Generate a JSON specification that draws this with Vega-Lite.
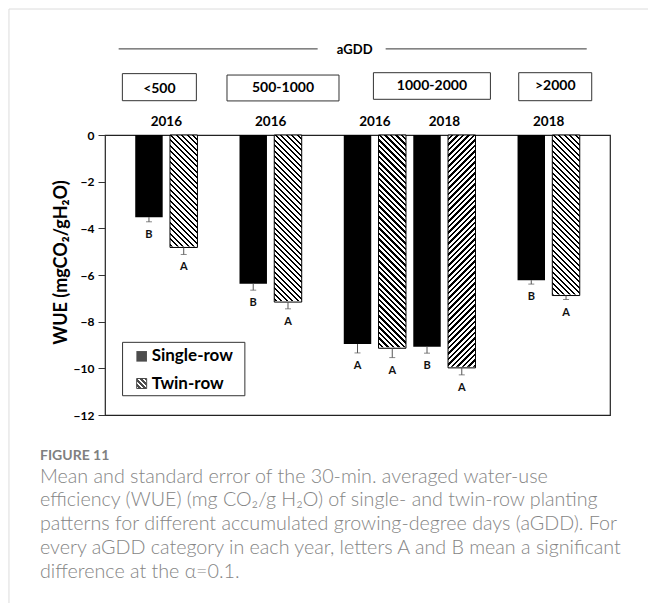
{
"$schema": "https://vega.github.io/schema/vega-lite/v6.json",
"autosize": {"type": "none"},
"width": 505, "height": 280,
"padding": {"left": 105, "top": 135, "right": 38, "bottom": 188},
"background": "white",
"datasets": {"bars": [
{"agdd":"<500","year":"2016","pattern":"Single-row","bar":"<500 2016 Single-row","wue":-3.52,"lo":-3.72,"letter":"B"},
{"agdd":"<500","year":"2016","pattern":"Twin-row","bar":"<500 2016 Twin-row","wue":-4.82,"lo":-5.12,"letter":"A"},
{"agdd":"500-1000","year":"2016","pattern":"Single-row","bar":"500-1000 2016 Single-row","wue":-6.37,"lo":-6.65,"letter":"B"},
{"agdd":"500-1000","year":"2016","pattern":"Twin-row","bar":"500-1000 2016 Twin-row","wue":-7.16,"lo":-7.45,"letter":"A"},
{"agdd":"1000-2000","year":"2016","pattern":"Single-row","bar":"1000-2000 2016 Single-row","wue":-8.96,"lo":-9.34,"letter":"A"},
{"agdd":"1000-2000","year":"2016","pattern":"Twin-row","bar":"1000-2000 2016 Twin-row","wue":-9.14,"lo":-9.54,"letter":"A"},
{"agdd":"1000-2000","year":"2018","pattern":"Single-row","bar":"1000-2000 2018 Single-row","wue":-9.07,"lo":-9.35,"letter":"B"},
{"agdd":"1000-2000","year":"2018","pattern":"Twin-row","bar":"1000-2000 2018 Twin-row","wue":-9.98,"lo":-10.28,"letter":"A"},
{"agdd":">2000","year":"2018","pattern":"Single-row","bar":">2000 2018 Single-row","wue":-6.22,"lo":-6.39,"letter":"B"},
{"agdd":">2000","year":"2018","pattern":"Twin-row","bar":">2000 2018 Twin-row","wue":-6.88,"lo":-7.05,"letter":"A"}
]},
"data": {"name": "bars"},
"title": {
 "text": "FIGURE 11",
 "subtitle": ["Mean and standard error of the 30-min. averaged water-use", "efficiency (WUE) (mg CO₂/g H₂O) of single- and twin-row planting", "patterns for different accumulated growing-degree days (aGDD). For", "every aGDD category in each year, letters A and B mean a significant", "difference at the α=0.1."],
 "orient": "bottom", "anchor": "start", "frame": "group", "dx": -65, "offset": -177,
 "font": "Lato", "fontSize": 14, "fontWeight": "bold", "color": "#808080",
 "subtitleFont": "Lato", "subtitleFontSize": 19.7, "subtitleFontWeight": 300, "subtitleColor": "#858585",
 "subtitleLineHeight": 23.8, "subtitlePadding": 4
},
"config": {
 "view": {"stroke": "#222", "strokeWidth": 1.2},
 "axisX": {"disable": true},
 "text": {"font": "Lato"},
 "font": "Lato"
},
"layer": [
{"data": {"values": [{}]}, "mark": {"type": "rule", "color": "#dcdcdc", "strokeWidth": 1, "xOffset": -140, "x2Offset": 90},
 "encoding": {"x": {"datum": "<500 2016 Single-row", "type": "nominal", "axis": null, "scale": {"domain": ["<500 2016 Single-row", "<500 2016 Twin-row", "gap1", "500-1000 2016 Single-row", "500-1000 2016 Twin-row", "gap2", "1000-2000 2016 Single-row", "1000-2000 2016 Twin-row", "1000-2000 2018 Single-row", "1000-2000 2018 Twin-row", "gap3", ">2000 2018 Single-row", ">2000 2018 Twin-row"], "paddingInner": 0.21, "paddingOuter": 0.87}},
  "x2": {"datum": ">2000 2018 Twin-row"},
  "y": {"datum": 5.4, "type": "quantitative", "scale": {"domain": [-12, 0], "nice": false, "zero": false},
   "axis": {"title": "WUE (mgCO₂/gH₂O)", "values": [-12, -10, -8, -6, -4, -2, 0], "grid": false, "domain": false, "tickSize": 7, "tickColor": "#333", "labelFont": "Lato", "labelFontSize": 12, "labelFontWeight": "bold", "labelColor": "#000", "labelPadding": 4, "labelFlush": false, "titleFont": "Lato", "titleFontSize": 18, "titleFontWeight": "bold", "titleColor": "#000", "titlePadding": 3, "titleY": 127}}}},
{"data": {"values": [{}]}, "mark": {"type": "rule", "color": "#dcdcdc", "strokeWidth": 1, "xOffset": -140},
 "encoding": {"x": {"datum": "<500 2016 Single-row", "type": "nominal"}, "y": {"datum": 5.4}, "y2": {"datum": -21}}},
{"transform": [{"filter": "datum.pattern === 'Twin-row' && datum.bar !== '1000-2000 2018 Twin-row'"}],
 "mark": {"type": "bar", "fill": {"gradient": "linear", "x1": 0, "y1": 0.97959, "x2": 0.12425, "y2": -0.12896, "stops": [
{"offset":0,"color":"#fff"},{"offset":0.012,"color":"#fff"},{"offset":0.012,"color":"#000"},{"offset":0.02,"color":"#000"},
{"offset":0.02,"color":"#fff"},{"offset":0.032,"color":"#fff"},{"offset":0.032,"color":"#000"},{"offset":0.04,"color":"#000"},
{"offset":0.04,"color":"#fff"},{"offset":0.052,"color":"#fff"},{"offset":0.052,"color":"#000"},{"offset":0.06,"color":"#000"},
{"offset":0.06,"color":"#fff"},{"offset":0.072,"color":"#fff"},{"offset":0.072,"color":"#000"},{"offset":0.08,"color":"#000"},
{"offset":0.08,"color":"#fff"},{"offset":0.092,"color":"#fff"},{"offset":0.092,"color":"#000"},{"offset":0.10,"color":"#000"},
{"offset":0.10,"color":"#fff"},{"offset":0.112,"color":"#fff"},{"offset":0.112,"color":"#000"},{"offset":0.12,"color":"#000"},
{"offset":0.12,"color":"#fff"},{"offset":0.132,"color":"#fff"},{"offset":0.132,"color":"#000"},{"offset":0.14,"color":"#000"},
{"offset":0.14,"color":"#fff"},{"offset":0.152,"color":"#fff"},{"offset":0.152,"color":"#000"},{"offset":0.16,"color":"#000"},
{"offset":0.16,"color":"#fff"},{"offset":0.172,"color":"#fff"},{"offset":0.172,"color":"#000"},{"offset":0.18,"color":"#000"},
{"offset":0.18,"color":"#fff"},{"offset":0.192,"color":"#fff"},{"offset":0.192,"color":"#000"},{"offset":0.20,"color":"#000"},
{"offset":0.20,"color":"#fff"},{"offset":0.212,"color":"#fff"},{"offset":0.212,"color":"#000"},{"offset":0.22,"color":"#000"},
{"offset":0.22,"color":"#fff"},{"offset":0.232,"color":"#fff"},{"offset":0.232,"color":"#000"},{"offset":0.24,"color":"#000"},
{"offset":0.24,"color":"#fff"},{"offset":0.252,"color":"#fff"},{"offset":0.252,"color":"#000"},{"offset":0.26,"color":"#000"},
{"offset":0.26,"color":"#fff"},{"offset":0.272,"color":"#fff"},{"offset":0.272,"color":"#000"},{"offset":0.28,"color":"#000"},
{"offset":0.28,"color":"#fff"},{"offset":0.292,"color":"#fff"},{"offset":0.292,"color":"#000"},{"offset":0.30,"color":"#000"},
{"offset":0.30,"color":"#fff"},{"offset":0.312,"color":"#fff"},{"offset":0.312,"color":"#000"},{"offset":0.32,"color":"#000"},
{"offset":0.32,"color":"#fff"},{"offset":0.332,"color":"#fff"},{"offset":0.332,"color":"#000"},{"offset":0.34,"color":"#000"},
{"offset":0.34,"color":"#fff"},{"offset":0.352,"color":"#fff"},{"offset":0.352,"color":"#000"},{"offset":0.36,"color":"#000"},
{"offset":0.36,"color":"#fff"},{"offset":0.372,"color":"#fff"},{"offset":0.372,"color":"#000"},{"offset":0.38,"color":"#000"},
{"offset":0.38,"color":"#fff"},{"offset":0.392,"color":"#fff"},{"offset":0.392,"color":"#000"},{"offset":0.40,"color":"#000"},
{"offset":0.40,"color":"#fff"},{"offset":0.412,"color":"#fff"},{"offset":0.412,"color":"#000"},{"offset":0.42,"color":"#000"},
{"offset":0.42,"color":"#fff"},{"offset":0.432,"color":"#fff"},{"offset":0.432,"color":"#000"},{"offset":0.44,"color":"#000"},
{"offset":0.44,"color":"#fff"},{"offset":0.452,"color":"#fff"},{"offset":0.452,"color":"#000"},{"offset":0.46,"color":"#000"},
{"offset":0.46,"color":"#fff"},{"offset":0.472,"color":"#fff"},{"offset":0.472,"color":"#000"},{"offset":0.48,"color":"#000"},
{"offset":0.48,"color":"#fff"},{"offset":0.492,"color":"#fff"},{"offset":0.492,"color":"#000"},{"offset":0.50,"color":"#000"},
{"offset":0.50,"color":"#fff"},{"offset":0.512,"color":"#fff"},{"offset":0.512,"color":"#000"},{"offset":0.52,"color":"#000"},
{"offset":0.52,"color":"#fff"},{"offset":0.532,"color":"#fff"},{"offset":0.532,"color":"#000"},{"offset":0.54,"color":"#000"},
{"offset":0.54,"color":"#fff"},{"offset":0.552,"color":"#fff"},{"offset":0.552,"color":"#000"},{"offset":0.56,"color":"#000"},
{"offset":0.56,"color":"#fff"},{"offset":0.572,"color":"#fff"},{"offset":0.572,"color":"#000"},{"offset":0.58,"color":"#000"},
{"offset":0.58,"color":"#fff"},{"offset":0.592,"color":"#fff"},{"offset":0.592,"color":"#000"},{"offset":0.60,"color":"#000"},
{"offset":0.60,"color":"#fff"},{"offset":0.612,"color":"#fff"},{"offset":0.612,"color":"#000"},{"offset":0.62,"color":"#000"},
{"offset":0.62,"color":"#fff"},{"offset":0.632,"color":"#fff"},{"offset":0.632,"color":"#000"},{"offset":0.64,"color":"#000"},
{"offset":0.64,"color":"#fff"},{"offset":0.652,"color":"#fff"},{"offset":0.652,"color":"#000"},{"offset":0.66,"color":"#000"},
{"offset":0.66,"color":"#fff"},{"offset":0.672,"color":"#fff"},{"offset":0.672,"color":"#000"},{"offset":0.68,"color":"#000"},
{"offset":0.68,"color":"#fff"},{"offset":0.692,"color":"#fff"},{"offset":0.692,"color":"#000"},{"offset":0.70,"color":"#000"},
{"offset":0.70,"color":"#fff"},{"offset":0.712,"color":"#fff"},{"offset":0.712,"color":"#000"},{"offset":0.72,"color":"#000"},
{"offset":0.72,"color":"#fff"},{"offset":0.732,"color":"#fff"},{"offset":0.732,"color":"#000"},{"offset":0.74,"color":"#000"},
{"offset":0.74,"color":"#fff"},{"offset":0.752,"color":"#fff"},{"offset":0.752,"color":"#000"},{"offset":0.76,"color":"#000"},
{"offset":0.76,"color":"#fff"},{"offset":0.772,"color":"#fff"},{"offset":0.772,"color":"#000"},{"offset":0.78,"color":"#000"},
{"offset":0.78,"color":"#fff"},{"offset":0.792,"color":"#fff"},{"offset":0.792,"color":"#000"},{"offset":0.80,"color":"#000"},
{"offset":0.80,"color":"#fff"},{"offset":0.812,"color":"#fff"},{"offset":0.812,"color":"#000"},{"offset":0.82,"color":"#000"},
{"offset":0.82,"color":"#fff"},{"offset":0.832,"color":"#fff"},{"offset":0.832,"color":"#000"},{"offset":0.84,"color":"#000"},
{"offset":0.84,"color":"#fff"},{"offset":0.852,"color":"#fff"},{"offset":0.852,"color":"#000"},{"offset":0.86,"color":"#000"},
{"offset":0.86,"color":"#fff"},{"offset":0.872,"color":"#fff"},{"offset":0.872,"color":"#000"},{"offset":0.88,"color":"#000"},
{"offset":0.88,"color":"#fff"},{"offset":0.892,"color":"#fff"},{"offset":0.892,"color":"#000"},{"offset":0.90,"color":"#000"},
{"offset":0.90,"color":"#fff"},{"offset":0.912,"color":"#fff"},{"offset":0.912,"color":"#000"},{"offset":0.92,"color":"#000"},
{"offset":0.92,"color":"#fff"},{"offset":0.932,"color":"#fff"},{"offset":0.932,"color":"#000"},{"offset":0.94,"color":"#000"},
{"offset":0.94,"color":"#fff"},{"offset":0.952,"color":"#fff"},{"offset":0.952,"color":"#000"},{"offset":0.96,"color":"#000"},
{"offset":0.96,"color":"#fff"},{"offset":0.972,"color":"#fff"},{"offset":0.972,"color":"#000"},{"offset":0.98,"color":"#000"},
{"offset":0.98,"color":"#fff"},{"offset":0.992,"color":"#fff"},{"offset":0.992,"color":"#000"},{"offset":1,"color":"#000"}
 ]}},
 "encoding": {"x": {"field": "bar", "type": "nominal"}, "y": {"datum": 0}, "y2": {"datum": -10.5}}},
{"transform": [{"filter": "datum.bar === '1000-2000 2018 Twin-row'"}],
 "mark": {"type": "bar", "fill": {"gradient": "linear", "x1": 0, "y1": 0, "x2": 0.12425, "y2": 1.10855, "stops": [
{"offset":0,"color":"#fff"},{"offset":0.012,"color":"#fff"},{"offset":0.012,"color":"#000"},{"offset":0.02,"color":"#000"},
{"offset":0.02,"color":"#fff"},{"offset":0.032,"color":"#fff"},{"offset":0.032,"color":"#000"},{"offset":0.04,"color":"#000"},
{"offset":0.04,"color":"#fff"},{"offset":0.052,"color":"#fff"},{"offset":0.052,"color":"#000"},{"offset":0.06,"color":"#000"},
{"offset":0.06,"color":"#fff"},{"offset":0.072,"color":"#fff"},{"offset":0.072,"color":"#000"},{"offset":0.08,"color":"#000"},
{"offset":0.08,"color":"#fff"},{"offset":0.092,"color":"#fff"},{"offset":0.092,"color":"#000"},{"offset":0.10,"color":"#000"},
{"offset":0.10,"color":"#fff"},{"offset":0.112,"color":"#fff"},{"offset":0.112,"color":"#000"},{"offset":0.12,"color":"#000"},
{"offset":0.12,"color":"#fff"},{"offset":0.132,"color":"#fff"},{"offset":0.132,"color":"#000"},{"offset":0.14,"color":"#000"},
{"offset":0.14,"color":"#fff"},{"offset":0.152,"color":"#fff"},{"offset":0.152,"color":"#000"},{"offset":0.16,"color":"#000"},
{"offset":0.16,"color":"#fff"},{"offset":0.172,"color":"#fff"},{"offset":0.172,"color":"#000"},{"offset":0.18,"color":"#000"},
{"offset":0.18,"color":"#fff"},{"offset":0.192,"color":"#fff"},{"offset":0.192,"color":"#000"},{"offset":0.20,"color":"#000"},
{"offset":0.20,"color":"#fff"},{"offset":0.212,"color":"#fff"},{"offset":0.212,"color":"#000"},{"offset":0.22,"color":"#000"},
{"offset":0.22,"color":"#fff"},{"offset":0.232,"color":"#fff"},{"offset":0.232,"color":"#000"},{"offset":0.24,"color":"#000"},
{"offset":0.24,"color":"#fff"},{"offset":0.252,"color":"#fff"},{"offset":0.252,"color":"#000"},{"offset":0.26,"color":"#000"},
{"offset":0.26,"color":"#fff"},{"offset":0.272,"color":"#fff"},{"offset":0.272,"color":"#000"},{"offset":0.28,"color":"#000"},
{"offset":0.28,"color":"#fff"},{"offset":0.292,"color":"#fff"},{"offset":0.292,"color":"#000"},{"offset":0.30,"color":"#000"},
{"offset":0.30,"color":"#fff"},{"offset":0.312,"color":"#fff"},{"offset":0.312,"color":"#000"},{"offset":0.32,"color":"#000"},
{"offset":0.32,"color":"#fff"},{"offset":0.332,"color":"#fff"},{"offset":0.332,"color":"#000"},{"offset":0.34,"color":"#000"},
{"offset":0.34,"color":"#fff"},{"offset":0.352,"color":"#fff"},{"offset":0.352,"color":"#000"},{"offset":0.36,"color":"#000"},
{"offset":0.36,"color":"#fff"},{"offset":0.372,"color":"#fff"},{"offset":0.372,"color":"#000"},{"offset":0.38,"color":"#000"},
{"offset":0.38,"color":"#fff"},{"offset":0.392,"color":"#fff"},{"offset":0.392,"color":"#000"},{"offset":0.40,"color":"#000"},
{"offset":0.40,"color":"#fff"},{"offset":0.412,"color":"#fff"},{"offset":0.412,"color":"#000"},{"offset":0.42,"color":"#000"},
{"offset":0.42,"color":"#fff"},{"offset":0.432,"color":"#fff"},{"offset":0.432,"color":"#000"},{"offset":0.44,"color":"#000"},
{"offset":0.44,"color":"#fff"},{"offset":0.452,"color":"#fff"},{"offset":0.452,"color":"#000"},{"offset":0.46,"color":"#000"},
{"offset":0.46,"color":"#fff"},{"offset":0.472,"color":"#fff"},{"offset":0.472,"color":"#000"},{"offset":0.48,"color":"#000"},
{"offset":0.48,"color":"#fff"},{"offset":0.492,"color":"#fff"},{"offset":0.492,"color":"#000"},{"offset":0.50,"color":"#000"},
{"offset":0.50,"color":"#fff"},{"offset":0.512,"color":"#fff"},{"offset":0.512,"color":"#000"},{"offset":0.52,"color":"#000"},
{"offset":0.52,"color":"#fff"},{"offset":0.532,"color":"#fff"},{"offset":0.532,"color":"#000"},{"offset":0.54,"color":"#000"},
{"offset":0.54,"color":"#fff"},{"offset":0.552,"color":"#fff"},{"offset":0.552,"color":"#000"},{"offset":0.56,"color":"#000"},
{"offset":0.56,"color":"#fff"},{"offset":0.572,"color":"#fff"},{"offset":0.572,"color":"#000"},{"offset":0.58,"color":"#000"},
{"offset":0.58,"color":"#fff"},{"offset":0.592,"color":"#fff"},{"offset":0.592,"color":"#000"},{"offset":0.60,"color":"#000"},
{"offset":0.60,"color":"#fff"},{"offset":0.612,"color":"#fff"},{"offset":0.612,"color":"#000"},{"offset":0.62,"color":"#000"},
{"offset":0.62,"color":"#fff"},{"offset":0.632,"color":"#fff"},{"offset":0.632,"color":"#000"},{"offset":0.64,"color":"#000"},
{"offset":0.64,"color":"#fff"},{"offset":0.652,"color":"#fff"},{"offset":0.652,"color":"#000"},{"offset":0.66,"color":"#000"},
{"offset":0.66,"color":"#fff"},{"offset":0.672,"color":"#fff"},{"offset":0.672,"color":"#000"},{"offset":0.68,"color":"#000"},
{"offset":0.68,"color":"#fff"},{"offset":0.692,"color":"#fff"},{"offset":0.692,"color":"#000"},{"offset":0.70,"color":"#000"},
{"offset":0.70,"color":"#fff"},{"offset":0.712,"color":"#fff"},{"offset":0.712,"color":"#000"},{"offset":0.72,"color":"#000"},
{"offset":0.72,"color":"#fff"},{"offset":0.732,"color":"#fff"},{"offset":0.732,"color":"#000"},{"offset":0.74,"color":"#000"},
{"offset":0.74,"color":"#fff"},{"offset":0.752,"color":"#fff"},{"offset":0.752,"color":"#000"},{"offset":0.76,"color":"#000"},
{"offset":0.76,"color":"#fff"},{"offset":0.772,"color":"#fff"},{"offset":0.772,"color":"#000"},{"offset":0.78,"color":"#000"},
{"offset":0.78,"color":"#fff"},{"offset":0.792,"color":"#fff"},{"offset":0.792,"color":"#000"},{"offset":0.80,"color":"#000"},
{"offset":0.80,"color":"#fff"},{"offset":0.812,"color":"#fff"},{"offset":0.812,"color":"#000"},{"offset":0.82,"color":"#000"},
{"offset":0.82,"color":"#fff"},{"offset":0.832,"color":"#fff"},{"offset":0.832,"color":"#000"},{"offset":0.84,"color":"#000"},
{"offset":0.84,"color":"#fff"},{"offset":0.852,"color":"#fff"},{"offset":0.852,"color":"#000"},{"offset":0.86,"color":"#000"},
{"offset":0.86,"color":"#fff"},{"offset":0.872,"color":"#fff"},{"offset":0.872,"color":"#000"},{"offset":0.88,"color":"#000"},
{"offset":0.88,"color":"#fff"},{"offset":0.892,"color":"#fff"},{"offset":0.892,"color":"#000"},{"offset":0.90,"color":"#000"},
{"offset":0.90,"color":"#fff"},{"offset":0.912,"color":"#fff"},{"offset":0.912,"color":"#000"},{"offset":0.92,"color":"#000"},
{"offset":0.92,"color":"#fff"},{"offset":0.932,"color":"#fff"},{"offset":0.932,"color":"#000"},{"offset":0.94,"color":"#000"},
{"offset":0.94,"color":"#fff"},{"offset":0.952,"color":"#fff"},{"offset":0.952,"color":"#000"},{"offset":0.96,"color":"#000"},
{"offset":0.96,"color":"#fff"},{"offset":0.972,"color":"#fff"},{"offset":0.972,"color":"#000"},{"offset":0.98,"color":"#000"},
{"offset":0.98,"color":"#fff"},{"offset":0.992,"color":"#fff"},{"offset":0.992,"color":"#000"},{"offset":1,"color":"#000"}
 ]}},
 "encoding": {"x": {"field": "bar", "type": "nominal"}, "y": {"datum": 0}, "y2": {"datum": -10.5}}},
{"transform": [{"filter": "datum.pattern === 'Twin-row'"}],
 "mark": {"type": "bar", "fill": "#fff", "stroke": "#fff", "strokeWidth": 2},
 "encoding": {"x": {"field": "bar", "type": "nominal"}, "y": {"field": "wue", "type": "quantitative"}, "y2": {"datum": -10.6}}},
{"transform": [{"filter": "datum.pattern === 'Single-row'"}],
 "mark": {"type": "bar", "fill": "#000"},
 "encoding": {"x": {"field": "bar", "type": "nominal"}, "y": {"field": "wue", "type": "quantitative"}, "y2": {"datum": 0}}},
{"transform": [{"filter": "datum.pattern === 'Twin-row'"}],
 "mark": {"type": "bar", "filled": false, "stroke": "#000", "strokeWidth": 1},
 "encoding": {"x": {"field": "bar", "type": "nominal"}, "y": {"field": "wue", "type": "quantitative"}, "y2": {"datum": 0}}},
{"mark": {"type": "rule", "color": "#555", "strokeWidth": 1},
 "encoding": {"x": {"field": "bar", "type": "nominal"}, "y": {"field": "wue", "type": "quantitative"}, "y2": {"field": "lo"}}},
{"mark": {"type": "tick", "color": "#555", "thickness": 1, "size": 6, "orient": "horizontal"},
 "encoding": {"x": {"field": "bar", "type": "nominal"}, "y": {"field": "lo", "type": "quantitative"}}},
{"mark": {"type": "text", "font": "Lato", "fontSize": 11, "fontWeight": "bold", "color": "#111", "dy": 13},
 "encoding": {"x": {"field": "bar", "type": "nominal"}, "y": {"field": "lo", "type": "quantitative"}, "text": {"field": "letter"}}},
{"transform": [{"filter": "datum.pattern === 'Single-row'"}],
 "mark": {"type": "text", "font": "Lato", "fontSize": 13.5, "fontWeight": "bold", "color": "#000", "dx": 17.4},
 "encoding": {"x": {"field": "bar", "type": "nominal"}, "y": {"datum": 0.54}, "text": {"field": "year"}}},
{"data": {"values": [{}]}, "mark": {"type": "bar", "width": 74, "xOffset": 10.4, "fill": "#fff", "stroke": "#333", "strokeWidth": 1},
 "encoding": {"x": {"datum": "<500 2016 Single-row", "type": "nominal"}, "y": {"datum": 2.63}, "y2": {"datum": 1.47}}},
{"data": {"values": [{}]}, "mark": {"type": "bar", "width": 112, "xOffset": -5, "fill": "#fff", "stroke": "#333", "strokeWidth": 1},
 "encoding": {"x": {"datum": "500-1000 2016 Twin-row", "type": "nominal"}, "y": {"datum": 2.57}, "y2": {"datum": 1.46}}},
{"data": {"values": [{}]}, "mark": {"type": "bar", "width": 117, "xOffset": 4.9, "fill": "#fff", "stroke": "#333", "strokeWidth": 1},
 "encoding": {"x": {"datum": "1000-2000 2018 Single-row", "type": "nominal"}, "y": {"datum": 2.67}, "y2": {"datum": 1.53}}},
{"data": {"values": [{}]}, "mark": {"type": "bar", "width": 73, "xOffset": -10.8, "fill": "#fff", "stroke": "#333", "strokeWidth": 1},
 "encoding": {"x": {"datum": ">2000 2018 Twin-row", "type": "nominal"}, "y": {"datum": 2.67}, "y2": {"datum": 1.47}}},
{"data": {"values": [{}]}, "mark": {"type": "text", "text": "<500", "dx": 10.4, "font": "Lato", "fontSize": 14, "fontWeight": "bold", "color": "#000"},
 "encoding": {"x": {"datum": "<500 2016 Single-row", "type": "nominal"}, "y": {"datum": 1.96}}},
{"data": {"values": [{}]}, "mark": {"type": "text", "text": "500-1000", "dx": -5, "font": "Lato", "fontSize": 14, "fontWeight": "bold", "color": "#000"},
 "encoding": {"x": {"datum": "500-1000 2016 Twin-row", "type": "nominal"}, "y": {"datum": 2.01}}},
{"data": {"values": [{}]}, "mark": {"type": "text", "text": "1000-2000", "dx": 4.9, "font": "Lato", "fontSize": 14, "fontWeight": "bold", "color": "#000"},
 "encoding": {"x": {"datum": "1000-2000 2018 Single-row", "type": "nominal"}, "y": {"datum": 2.1}}},
{"data": {"values": [{}]}, "mark": {"type": "text", "text": ">2000", "dx": -10.8, "font": "Lato", "fontSize": 14, "fontWeight": "bold", "color": "#000"},
 "encoding": {"x": {"datum": ">2000 2018 Twin-row", "type": "nominal"}, "y": {"datum": 2.1}}},
{"data": {"values": [{}]}, "mark": {"type": "rule", "color": "#333", "strokeWidth": 1, "xOffset": -30.3, "x2Offset": -5.1},
 "encoding": {"x": {"datum": "<500 2016 Single-row", "type": "nominal"}, "x2": {"datum": "gap2"}, "y": {"datum": 3.69}}},
{"data": {"values": [{}]}, "mark": {"type": "rule", "color": "#333", "strokeWidth": 1, "xOffset": -6.6, "x2Offset": 20.7},
 "encoding": {"x": {"datum": "1000-2000 2016 Twin-row", "type": "nominal"}, "x2": {"datum": ">2000 2018 Twin-row"}, "y": {"datum": 3.69}}},
{"data": {"values": [{}]}, "mark": {"type": "text", "text": "aGDD", "dx": -2.8, "font": "Lato", "fontSize": 13, "fontWeight": "bold", "color": "#000"},
 "encoding": {"x": {"datum": "1000-2000 2016 Single-row", "type": "nominal"}, "y": {"datum": 3.64}}},
{"data": {"values": [{}]}, "mark": {"type": "bar", "width": 122.3, "fill": "#fff", "stroke": "#333", "strokeWidth": 1},
 "encoding": {"x": {"datum": "<500 2016 Twin-row", "type": "nominal"}, "y": {"datum": -8.886}, "y2": {"datum": -11.174}}},
{"data": {"values": [{}]}, "mark": {"type": "point", "shape": "square", "size": 112, "filled": true, "fill": "#000", "xOffset": -7.3},
 "encoding": {"x": {"datum": "<500 2016 Single-row", "type": "nominal"}, "y": {"datum": -9.486}}},
{"data": {"values": [{}]}, "mark": {"type": "point", "shape": "square", "size": 100, "filled": true, "stroke": "#000", "strokeWidth": 1, "strokeOpacity": 1, "xOffset": -7.3, "fill": {"gradient": "linear", "x1": 0, "y1": 1, "x2": 1, "y2": 0, "stops": [
{"offset":0,"color":"#fff"},{"offset":0.125,"color":"#fff"},{"offset":0.125,"color":"#000"},{"offset":0.25,"color":"#000"},
{"offset":0.25,"color":"#fff"},{"offset":0.375,"color":"#fff"},{"offset":0.375,"color":"#000"},{"offset":0.5,"color":"#000"},
{"offset":0.5,"color":"#fff"},{"offset":0.625,"color":"#fff"},{"offset":0.625,"color":"#000"},{"offset":0.75,"color":"#000"},
{"offset":0.75,"color":"#fff"},{"offset":0.875,"color":"#fff"},{"offset":0.875,"color":"#000"},{"offset":1,"color":"#000"}]}},
 "encoding": {"x": {"datum": "<500 2016 Single-row", "type": "nominal"}, "y": {"datum": -10.65}}},
{"data": {"values": [{}]}, "mark": {"type": "text", "text": "Single-row", "align": "left", "dx": 2.7, "font": "Lato", "fontSize": 17, "fontWeight": "bold", "color": "#000"},
 "encoding": {"x": {"datum": "<500 2016 Single-row", "type": "nominal"}, "y": {"datum": -9.47}}},
{"data": {"values": [{}]}, "mark": {"type": "text", "text": "Twin-row", "align": "left", "dx": 2.7, "font": "Lato", "fontSize": 17, "fontWeight": "bold", "color": "#000"},
 "encoding": {"x": {"datum": "<500 2016 Single-row", "type": "nominal"}, "y": {"datum": -10.65}}}
]
}
